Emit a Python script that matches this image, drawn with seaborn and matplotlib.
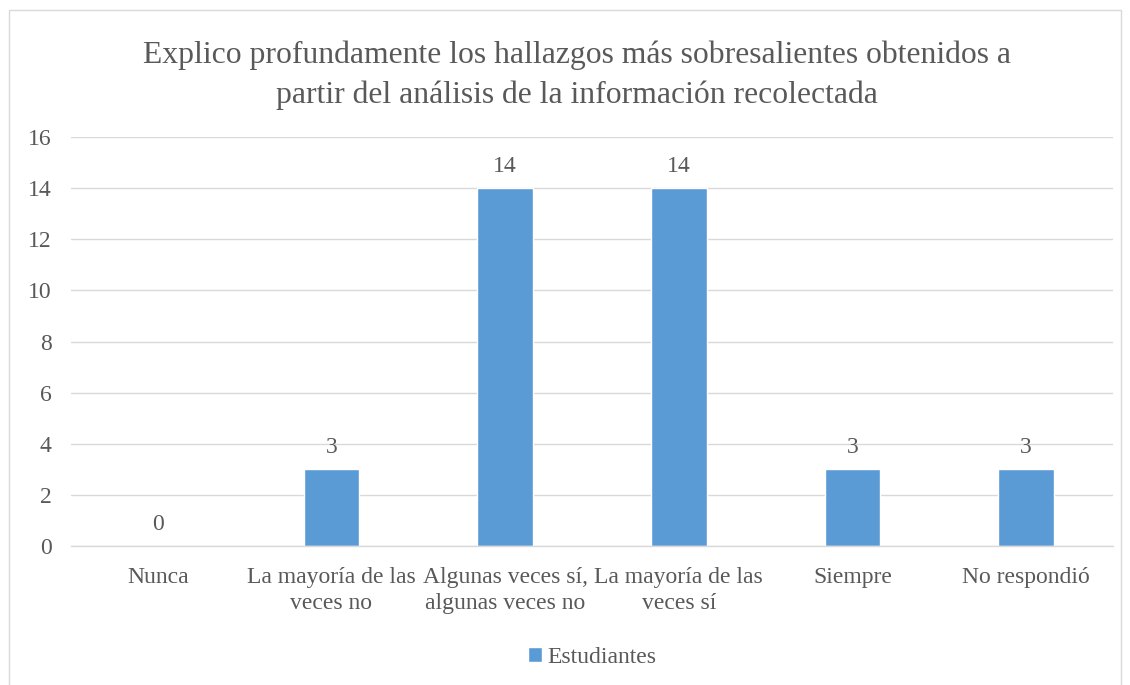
import pandas as pd
import matplotlib.pyplot as plt
import seaborn as sns
from matplotlib.patches import Rectangle

categorias = ['Nunca', 'La mayoría de las\nveces no', 'Algunas veces sí,\nalgunas veces no',
              'La mayoría de las\nveces sí', 'Siempre', 'No respondió']
estudiantes = [0, 3, 14, 14, 3, 3]
serie = 'Estudiantes'
titulo = 'Explico profundamente los hallazgos más sobresalientes obtenidos a\npartir del análisis de la información recolectada'

df = pd.DataFrame({'categoria': categorias, 'valor': estudiantes, 'serie': serie})

sns.set_style('white')
plt.rcParams['font.family'] = ['Liberation Serif', 'DejaVu Serif']
texto = '#595959'

fig = plt.figure(figsize=(11.3, 6.85), dpi=100)
ax = fig.add_axes([0.0628, 0.2029, 0.9222, 0.597])

sns.barplot(x='categoria', y='valor', hue='serie', data=df, palette=['#5B9BD5'],
            width=0.32, ax=ax, saturation=1)

for c in ax.containers:
    ax.bar_label(c, padding=8, fontsize=17, color=texto)

ax.set_ylim(0, 16)
ax.set_yticks(range(0, 17, 2))
ax.set_xlim(-0.5, len(categorias) - 0.5)
ax.grid(axis='y', color='#D9D9D9', linewidth=1)
ax.set_axisbelow(True)
for s in ['top', 'right', 'left']:
    ax.spines[s].set_visible(False)
ax.spines['bottom'].set_color('#D9D9D9')
ax.spines['bottom'].set_linewidth(1)
ax.tick_params(axis='both', length=0, labelsize=17, colors=texto)
ax.tick_params(axis='x', pad=15)
ax.tick_params(axis='y', pad=14)
for t in ax.get_xticklabels():
    t.set_linespacing(1.3)
ax.set_xlabel('')
ax.set_ylabel('')

ax.legend(loc='center', bbox_to_anchor=(0.5, -0.272), frameon=False, fontsize=17,
          labelcolor=texto, handlelength=0.6, handleheight=0.6, handletextpad=0.2)

fig.text(0.5106, 0.89, titulo, ha='center', va='center', fontsize=22.8, color=texto,
         linespacing=1.45)

fig.patches.append(Rectangle((9 / 1130, -0.01), 1112 / 1130, 1 - 10 / 685 + 0.01,
                             transform=fig.transFigure, fill=False,
                             edgecolor='#D9D9D9', linewidth=1))

fig.savefig('out.png', dpi=100)
